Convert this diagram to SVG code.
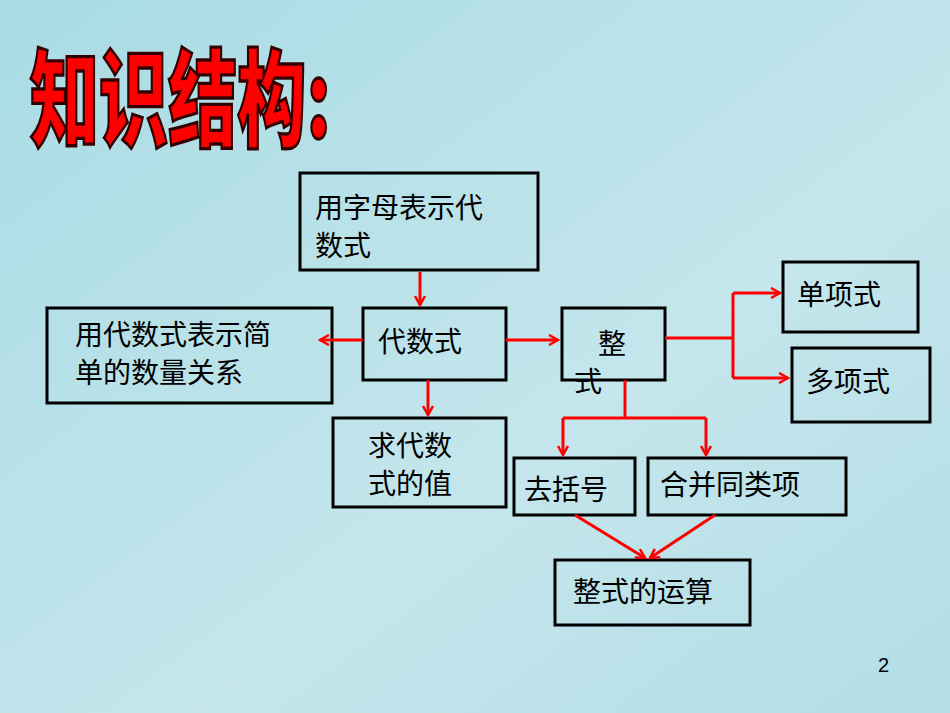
<svg xmlns="http://www.w3.org/2000/svg" width="950" height="713" viewBox="0 0 950 713">
<defs>
<linearGradient id="bg" x1="0" y1="0" x2="1" y2="1">
<stop offset="0" stop-color="#a9dbe4"/><stop offset="0.6" stop-color="#c4e6ec"/><stop offset="1" stop-color="#b3dde5"/>
</linearGradient>
<marker id="ah" viewBox="0 0 12 12" refX="10" refY="6" markerWidth="12" markerHeight="12" markerUnits="userSpaceOnUse" orient="auto">
<path d="M1,1 L10,6 L1,11" fill="none" stroke="#f00" stroke-width="2.5"/>
</marker>
<style>
.b{fill:none;stroke:#000;stroke-width:3}
.t{font-family:"Noto Sans CJK SC","Liberation Sans",sans-serif;font-size:28px;fill:#000}
.c{fill:none;stroke:#f00;stroke-width:3}
.a{marker-end:url(#ah)}
</style>
</defs>
<rect width="950" height="713" fill="url(#bg)"/>
<text transform="translate(30,138) scale(0.72,1.1)" font-family="Noto Sans CJK SC,sans-serif" font-weight="900" font-size="96" fill="#f00" stroke="#300" stroke-width="3">知识结构:</text>
<g id="n1"><rect class="b" x="300" y="173" width="238" height="97"/><text class="t" x="315" y="218">用字母表示代</text><text class="t" x="315" y="256">数式</text></g>
<g id="n2"><rect class="b" x="363" y="308" width="143" height="72"/><text class="t" x="378" y="352">代数式</text></g>
<g id="n3"><rect class="b" x="47" y="308" width="285" height="95"/><text class="t" x="75" y="345">用代数式表示简</text><text class="t" x="75" y="383">单的数量关系</text></g>
<g id="n4"><rect class="b" x="562" y="308" width="103" height="72"/><text class="t" x="598" y="354">整</text><text class="t" x="574" y="392">式</text></g>
<g id="n5"><rect class="b" x="783" y="262" width="135" height="70"/><text class="t" x="797" y="305">单项式</text></g>
<g id="n6"><rect class="b" x="792" y="348" width="138" height="74"/><text class="t" x="806" y="392">多项式</text></g>
<g id="n7"><rect class="b" x="333" y="418" width="173" height="89"/><text class="t" x="368" y="456">求代数</text><text class="t" x="368" y="494">式的值</text></g>
<g id="n8"><rect class="b" x="514" y="458" width="121" height="57"/><text class="t" x="524" y="500">去括号</text></g>
<g id="n9"><rect class="b" x="648" y="458" width="198" height="57"/><text class="t" x="660" y="495">合并同类项</text></g>
<g id="n10"><rect class="b" x="555" y="560" width="195" height="65"/><text class="t" x="573" y="602">整式的运算</text></g>
<g id="edges">
<path class="c a" d="M420,272 V305"/>
<path class="c a" d="M363,340 H320"/>
<path class="c a" d="M506,340 H558"/>
<path class="c a" d="M428,380 V415"/>
<path class="c" d="M665,338 H733 M733,293 V378 M625,380 V418 M563,418 H706"/>
<path class="c a" d="M733,293 H780"/>
<path class="c a" d="M733,378 H788"/>
<path class="c a" d="M563,418 V455"/>
<path class="c a" d="M706,418 V455"/>
<path class="c a" d="M575,515 L645,558"/>
<path class="c a" d="M715,515 L650,558"/>
</g>
<text x="878" y="672" font-family="Liberation Sans,sans-serif" font-size="20" fill="#000">2</text>
</svg>
